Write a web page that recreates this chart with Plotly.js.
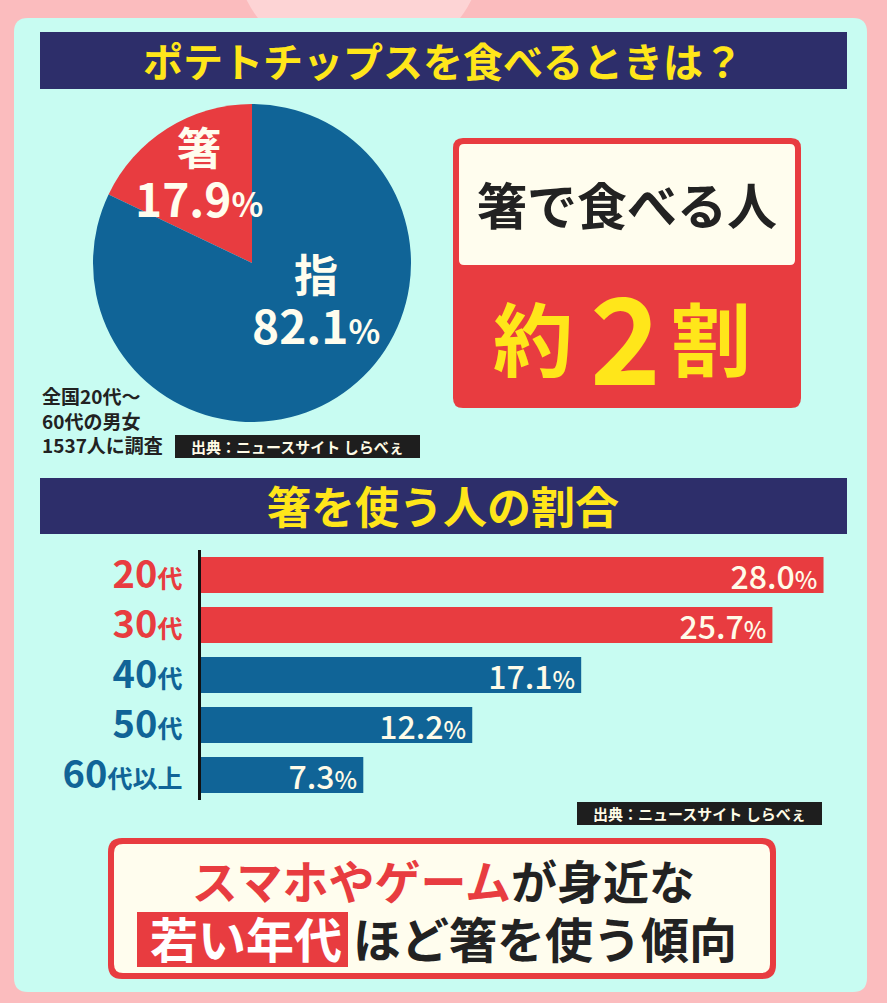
<!DOCTYPE html>
<html><head><meta charset="utf-8">
<script src="https://cdn.plot.ly/plotly-3.0.1.min.js"></script>
<style>html,body{margin:0;padding:0;background:#fbbcbe;}#chart{width:887px;height:1003px;}</style>
</head><body><div id="chart"></div>
<script>
// ---- data ----
const pieLabels = ['箸', '指'];
const pieValues = [17.9, 82.1];
const ageGroups = ['20代', '30代', '40代', '50代', '60代以上'];
const chopstickShare = [28.0, 25.7, 17.1, 12.2, 7.3];
const mainTitle = 'ポテトチップスを食べるときは？';
const barTitle = '箸を使う人の割合';
const boxHead = '箸で食べる人';
const boxBig = ['約', '2', '割'];
const surveyNote = ['全国20代～', '60代の男女', '1537人に調査'];
const sourceText = '出典：ニュースサイト しらべぇ';
const closing1 = ['スマホやゲーム', 'が身近な'];
const closing2 = ['若い年代', 'ほど箸を使う傾向'];

// ---- style ----
const W = 887, H = 1003;
const FONT = 'Noto Sans CJK JP';
const RED = '#e83c40', BLUE = '#106497', NAVY = '#2d2e6a', YEL = '#ffe61a',
      MINT = '#c8fcf2', CREAM = '#fffdee', INK = '#1e1e1e', PINK = '#fbbcbe';
const barColors = [RED, RED, BLUE, BLUE, BLUE];
const px = x => x / W, py = y => 1 - y / H;

function rrect(x0, y0, x1, y1, r, fill) {
  const P = (x, y) => px(x).toFixed(5) + ',' + py(y).toFixed(5);
  const path = `M${P(x0 + r, y0)} L${P(x1 - r, y0)} Q${P(x1, y0)} ${P(x1, y0 + r)} L${P(x1, y1 - r)} Q${P(x1, y1)} ${P(x1 - r, y1)} L${P(x0 + r, y1)} Q${P(x0, y1)} ${P(x0, y1 - r)} L${P(x0, y0 + r)} Q${P(x0, y0)} ${P(x0 + r, y0)} Z`;
  return {type: 'path', xref: 'paper', yref: 'paper', path, fillcolor: fill, line: {width: 0}, layer: 'below'};
}
function rect(x0, y0, x1, y1, fill) {
  return {type: 'rect', xref: 'paper', yref: 'paper', x0: px(x0), x1: px(x1), y0: py(y1), y1: py(y0),
          fillcolor: fill, line: {width: 0}, layer: 'below'};
}
function ann(x, y, text, size, color, extra, weight) {
  return Object.assign({xref: 'paper', yref: 'paper', x: px(x), y: py(y), text, showarrow: false,
    xanchor: 'center', yanchor: 'middle', font: {family: FONT, size, color, weight: weight || 700}}, extra || {});
}

const shapes = [
  {type: 'circle', xref: 'paper', yref: 'paper', x0: px(233), x1: px(485), y0: py(69), y1: py(-183),
   fillcolor: '#fdd4d5', line: {width: 0}, layer: 'below'},
  rrect(14, 18, 867, 992, 14, MINT),
  rect(40, 32, 847, 89, NAVY),
  rrect(453, 138, 801, 408, 10, RED),
  rrect(459, 144, 795, 265, 5, CREAM),
  rect(175, 435, 420, 458, INK),
  rect(40, 478, 847, 534, NAVY),
  rect(577, 802, 822, 825, INK),
  rrect(108, 838, 776, 979, 14, RED),
  rrect(114, 844, 770, 973, 9, CREAM),
  rect(137, 912, 348, 967, RED)
];

const pct = (v, s) => v.toFixed(1) + `<span style="font-size:${s}px">%</span>`;
const pieText = i => `<span style="font-size:44px">${pieLabels[i]}</span><br><span style="font-size:46px">${pct(pieValues[i], 33)}</span>`;

const annotations = [
  ann(443, 60, mainTitle, 40, YEL),
  ann(199, 172, pieText(0), 40, CREAM),
  ann(316, 299, pieText(1), 40, CREAM),
  ann(40, 420, surveyNote.join('<br>'), 19, '#222', {xanchor: 'left', align: 'left'}),
  ann(297.5, 446, sourceText, 15, '#fffbe6'),
  ann(627, 203, boxHead, 50, '#222'),
  ann(533, 335, boxBig[0], 80, YEL),
  ann(625, 333, boxBig[1], 120, YEL),
  ann(711, 335, boxBig[2], 80, YEL),
  ann(443, 505, barTitle, 44, YEL),
  ann(699.5, 813, sourceText, 15, '#fffbe6'),
  ann(443, 909,
      `<span style="font-size:46px"><span style="color:${RED}">${closing1[0]}</span>${closing1[1]}</span><br>` +
      `<span style="font-size:48px"><span style="color:#ffffff">${closing2[0]}</span> ${closing2[1]}</span>`,
      45, '#222')
];

const tickText = ageGroups.map((g, i) => {
  const m = g.match(/^(\d+)(.*)$/);
  return `<span style="color:${barColors[i]}">${m[1]}<span style="font-size:25px">${m[2]}</span></span>`;
});

// first slice (箸) should end at 12 o'clock, lying to its left
const pieTotal = pieValues.reduce((a, b) => a + b, 0);
const pieTrace = {
  type: 'pie', labels: pieLabels, values: pieValues, sort: false, direction: 'clockwise',
  rotation: -360 * pieValues[0] / pieTotal,
  marker: {colors: [RED, BLUE], line: {width: 0}}, textinfo: 'none', hoverinfo: 'skip',
  domain: {x: [px(93), px(411)], y: [py(422), py(104)]}, showlegend: false
};
const barTrace = {
  type: 'bar', orientation: 'h', y: ageGroups, x: chopstickShare,
  marker: {color: barColors, line: {width: 0}}, width: 0.72,
  text: chopstickShare.map(v => pct(v, 24) + '<span style="font-size:14px">\u00a0</span>'),
  textposition: 'inside', insidetextanchor: 'end', textangle: 0, constraintext: 'none',
  insidetextfont: {family: FONT, size: 32, color: '#fffbe8', weight: 500},
  hoverinfo: 'skip', cliponaxis: false
};

const layout = {
  width: W, height: H, margin: {l: 0, r: 0, t: 0, b: 0},
  paper_bgcolor: PINK, plot_bgcolor: 'rgba(0,0,0,0)', showlegend: false, hovermode: false,
  xaxis: {domain: [px(201), px(868)], range: [0, 30], visible: false, fixedrange: true},
  yaxis: {domain: [py(800), py(550)], type: 'category', categoryorder: 'array', categoryarray: ageGroups,
          range: [4.5, -0.5], tickvals: ageGroups, ticktext: tickText, ticks: '', showgrid: false, zeroline: false,
          showline: true, linecolor: '#111', linewidth: 3, ticklabelstandoff: 8,
          tickfont: {family: FONT, size: 38, color: BLUE, weight: 700}, fixedrange: true},
  shapes, annotations
};
Plotly.newPlot('chart', [pieTrace, barTrace], layout, {staticPlot: true, displayModeBar: false});
</script></body></html>
